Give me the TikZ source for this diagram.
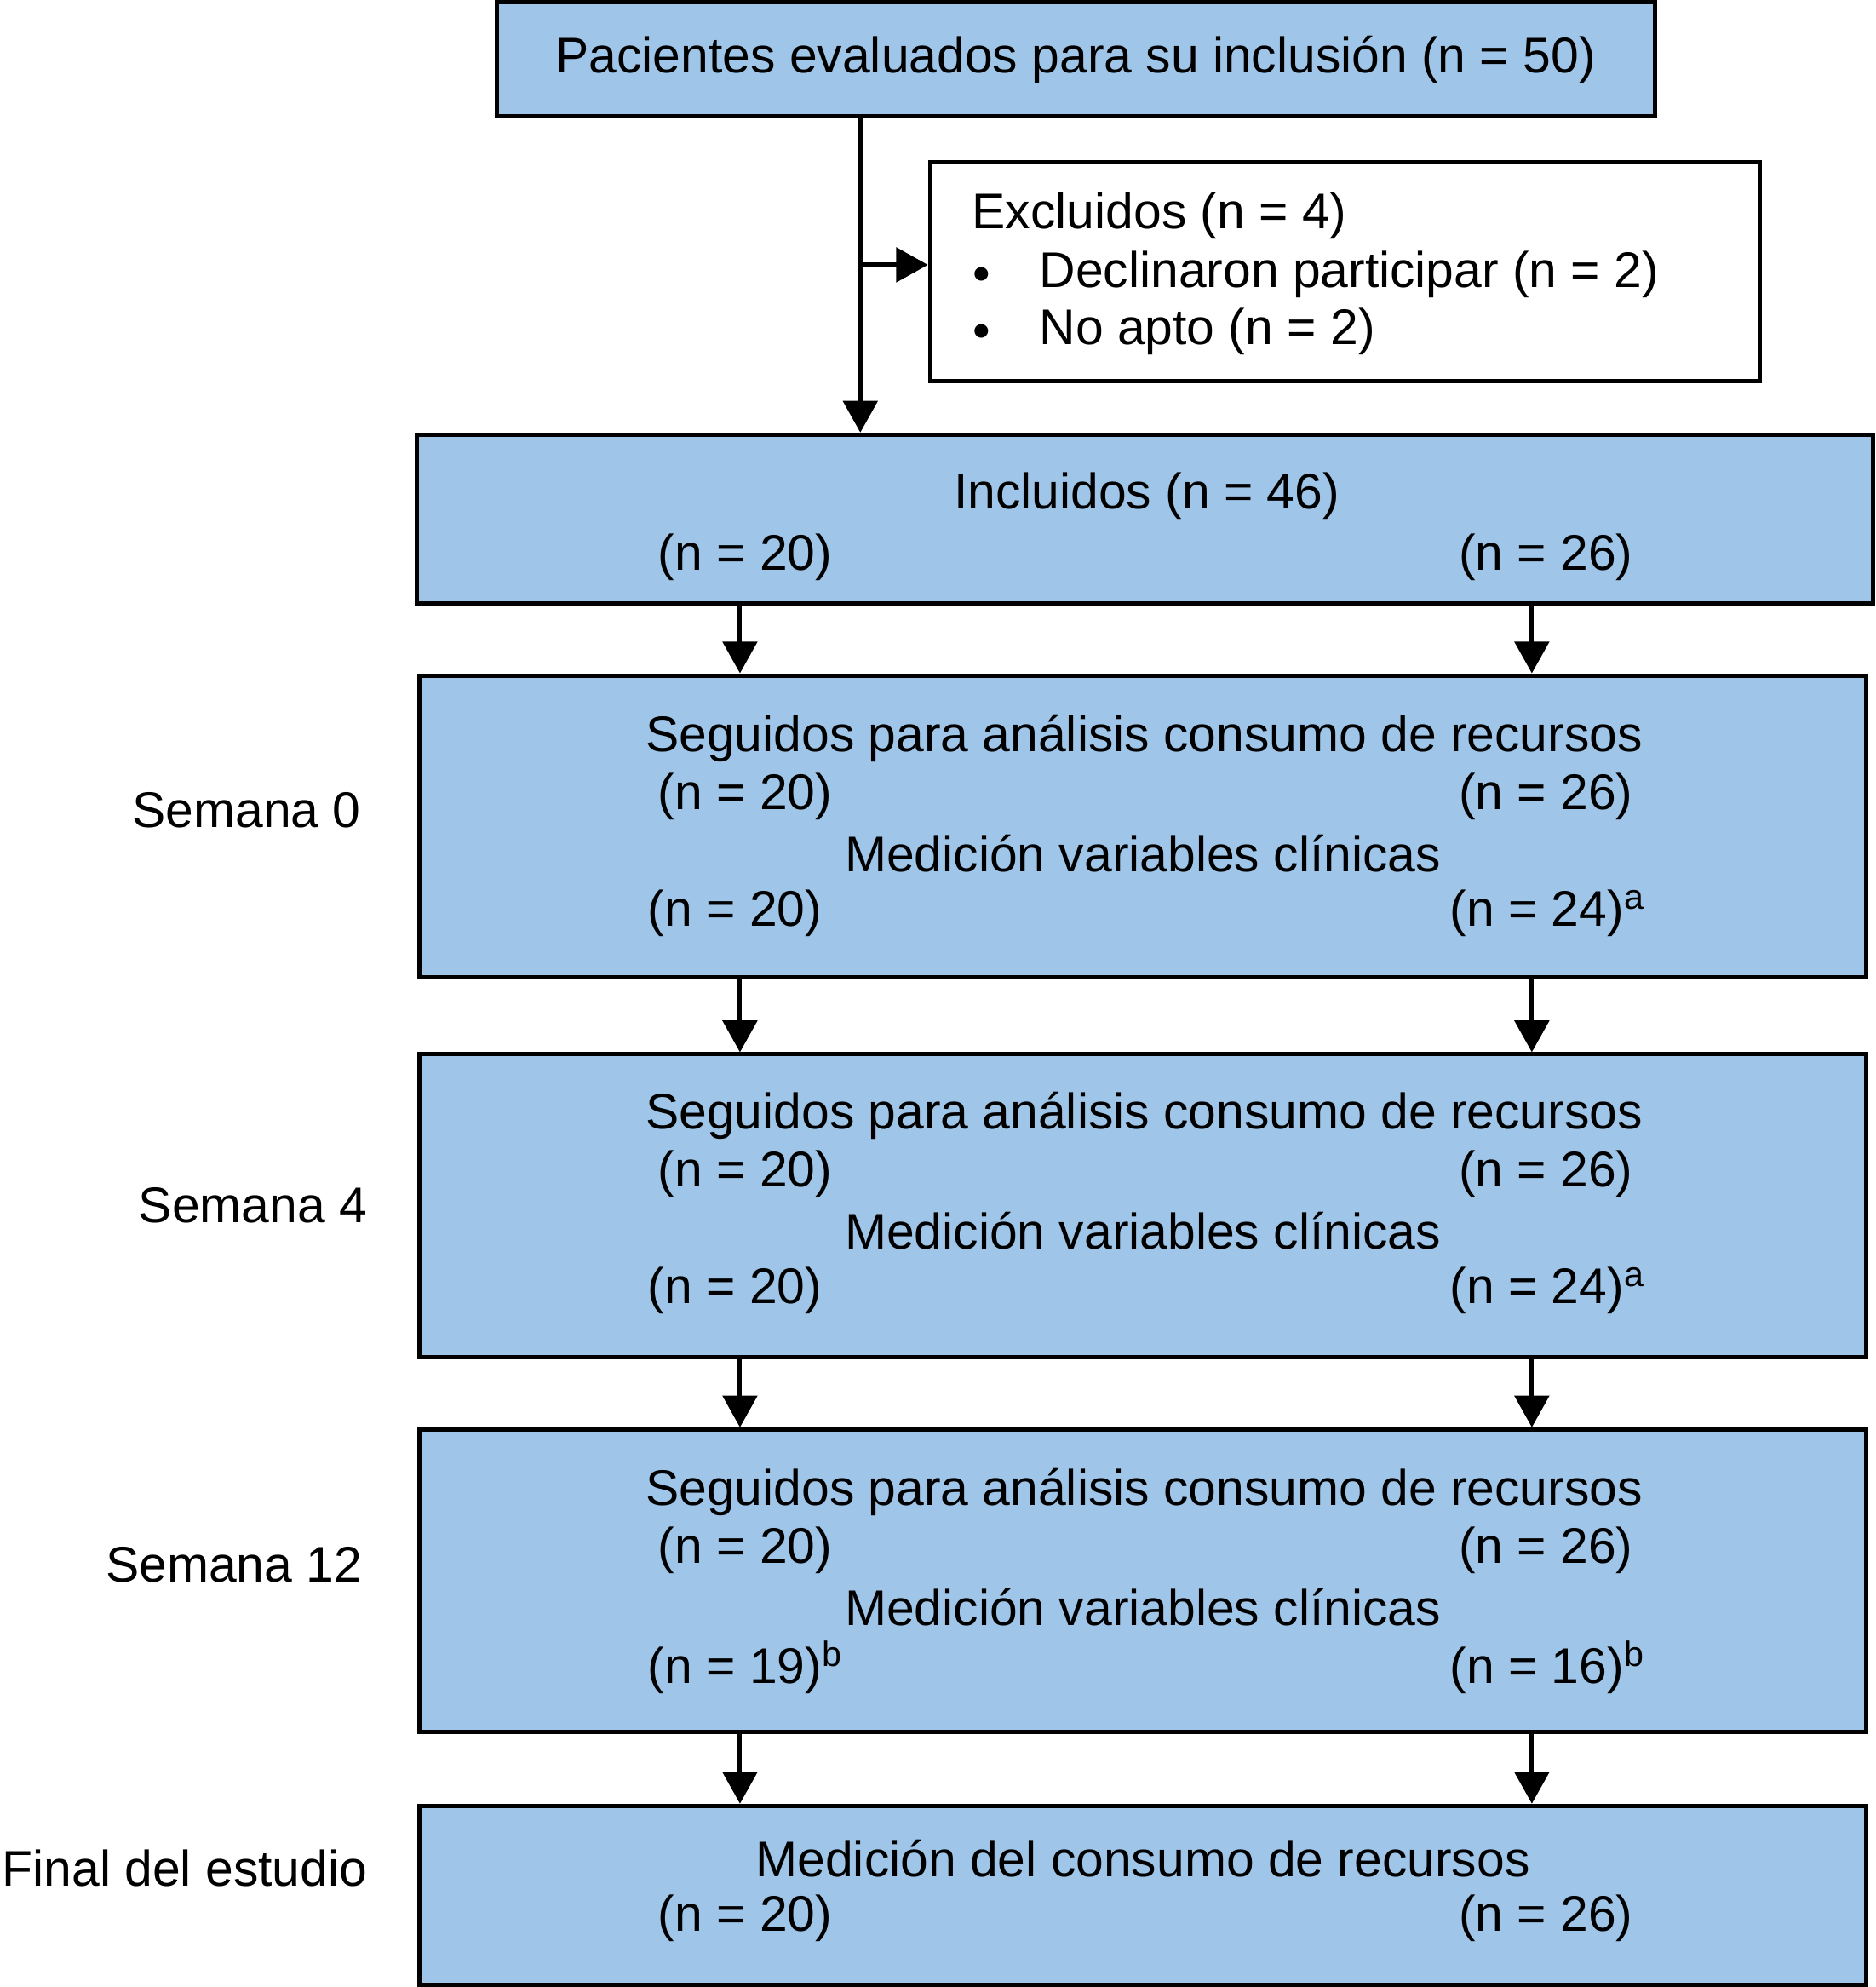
\documentclass[tikz,border=0pt]{standalone}
\usepackage{fontspec}
\setmainfont{Liberation Sans}
\usepackage{xcolor}
\usetikzlibrary{arrows.meta}
\definecolor{boxblue}{RGB}{159,197,232}

\begin{document}
\begin{tikzpicture}[
    box/.style={draw, line width=1.9pt, inner sep=0pt},
    bluebox/.style={box, fill=boxblue},
    arr/.style={-{Triangle[length=0.5cm,width=0.54cm]}, line width=1.9pt},
    fnt/.style={font=\fontsize{22.5}{26}\selectfont},
    txt/.style={fnt, inner sep=0pt, yshift=-0.07cm},
    ]
    \useasboundingbox (0,0) rectangle (29.6,-31.36);

    % Draw the top box and the excluded box
    \node[bluebox, fnt, minimum width=18.28cm, minimum height=1.8cm] (pac) at (16.98,-0.94) {Pacientes evaluados para su inclusión (n = 50)};
    \node[box, fill=white, minimum width=13.1cm, minimum height=3.46cm] (excl) at (21.23,-4.29) {};
    \node[txt, anchor=west] (exclt) at (15.34,-3.34) {Excluidos (n = 4)};
    \node[txt] (bul1) at (15.5,-4.34) {\textbullet};
    \node[txt, anchor=west] (decl) at (16.4,-4.26) {Declinaron participar (n = 2)};
    \node[txt] (bul2) at (15.5,-5.24) {\textbullet};
    \node[txt, anchor=west] (noapto) at (16.4,-5.16) {No apto (n = 2)};

    % Draw the included box
    \node[bluebox, minimum width=22.98cm, minimum height=2.66cm] (inc) at (18.07,-8.19) {};
    \node[txt] (inct) at (18.1,-7.76) {Incluidos (n = 46)};
    \node[txt, anchor=west] (incl) at (10.38,-8.72) {(n = 20)};
    \node[txt, anchor=west] (incr) at (23.02,-8.72) {(n = 26)};

    % Semana 0
    \node[bluebox, minimum width=22.84cm, minimum height=4.76cm] (s0) at (18.04,-13.04) {};
    \node[txt, anchor=east] (s0lab) at (5.7,-12.72) {Semana 0};
    \node[txt] (s0seg) at (18.06,-11.58) {Seguidos para análisis consumo de recursos};
    \node[txt, anchor=west] (s0a) at (10.38,-12.5) {(n = 20)};
    \node[txt, anchor=west] (s0b) at (23.02,-12.5) {(n = 26)};
    \node[txt] (s0med) at (18.04,-13.4) {Medición variables clínicas};
    \node[txt, anchor=west] (s0c) at (10.22,-14.34) {(n = 20)};
    \node[txt, anchor=west] (s0d) at (22.88,-14.34) {(n = 24)\textsuperscript{a}};

    % Semana 4
    \node[bluebox, minimum width=22.84cm, minimum height=4.78cm] (s4) at (18.04,-19.03) {};
    \node[txt, anchor=east] (s4lab) at (5.8,-18.96) {Semana 4};
    \node[txt] (s4seg) at (18.06,-17.54) {Seguidos para análisis consumo de recursos};
    \node[txt, anchor=west] (s4a) at (10.38,-18.46) {(n = 20)};
    \node[txt, anchor=west] (s4b) at (23.02,-18.46) {(n = 26)};
    \node[txt] (s4med) at (18.04,-19.36) {Medición variables clínicas};
    \node[txt, anchor=west] (s4c) at (10.22,-20.3) {(n = 20)};
    \node[txt, anchor=west] (s4d) at (22.88,-20.3) {(n = 24)\textsuperscript{a}};

    % Semana 12
    \node[bluebox, minimum width=22.84cm, minimum height=4.78cm] (s12) at (18.04,-24.95) {};
    \node[txt, anchor=east] (s12lab) at (5.72,-24.62) {Semana 12};
    \node[txt] (s12seg) at (18.06,-23.48) {Seguidos para análisis consumo de recursos};
    \node[txt, anchor=west] (s12a) at (10.38,-24.4) {(n = 20)};
    \node[txt, anchor=west] (s12b) at (23.02,-24.4) {(n = 26)};
    \node[txt] (s12med) at (18.04,-25.3) {Medición variables clínicas};
    \node[txt, anchor=west] (s12c) at (10.22,-26.24) {(n = 19)\textsuperscript{b}};
    \node[txt, anchor=west] (s12d) at (22.88,-26.24) {(n = 16)\textsuperscript{b}};

    % Final del estudio
    \node[bluebox, minimum width=22.84cm, minimum height=2.82cm] (fin) at (18.04,-29.91) {};
    \node[txt, anchor=west] (finlab) at (0.03,-29.42) {Final del estudio};
    \node[txt] (finmed) at (18.04,-29.26) {Medición del consumo de recursos};
    \node[txt, anchor=west] (fina) at (10.38,-30.2) {(n = 20)};
    \node[txt, anchor=west] (finb) at (23.02,-30.2) {(n = 26)};

    % Draw the arrows
    \coordinate (trunk) at (13.58,0);
    \coordinate (colL) at (11.68,0);
    \coordinate (colR) at (24.18,0);
    \coordinate (branch) at ([yshift=0.11cm]excl.west);
    \draw[arr] (pac.south -| trunk) -- (inc.north -| trunk);
    \draw[arr] (branch -| trunk) -- (branch);
    \draw[arr] (inc.south -| colL) -- (s0.north -| colL);
    \draw[arr] (inc.south -| colR) -- (s0.north -| colR);
    \draw[arr] (s0.south -| colL) -- (s4.north -| colL);
    \draw[arr] (s0.south -| colR) -- (s4.north -| colR);
    \draw[arr] (s4.south -| colL) -- (s12.north -| colL);
    \draw[arr] (s4.south -| colR) -- (s12.north -| colR);
    \draw[arr] (s12.south -| colL) -- (fin.north -| colL);
    \draw[arr] (s12.south -| colR) -- (fin.north -| colR);
\end{tikzpicture}
\end{document}
